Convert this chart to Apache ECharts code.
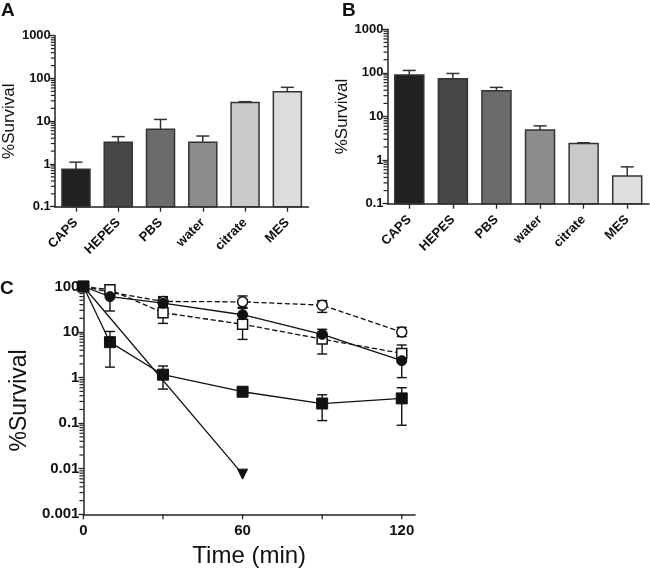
<!DOCTYPE html>
<html><head><meta charset="utf-8">
<script src="https://cdn.jsdelivr.net/npm/echarts@6/dist/echarts.min.js"></script>
<style>html,body{margin:0;padding:0;background:#fff}#c{width:650px;height:574px}</style>
</head><body><div id="c"></div>
<script>
// ---- Data ----
const categories = ['CAPS', 'HEPES', 'PBS', 'water', 'citrate', 'MES'];
const survivalA = [0.75, 3.2, 6.5, 3.2, 27.5, 49];
const errTopA = [1.1, 4.35, 11, 4.5, 28.6, 62];
const survivalB = [89, 73, 39, 4.9, 2.4, 0.43];
const errTopB = [114, 97, 46.5, 6.1, 2.5, 0.70];
const barColorsA = ['#222222', '#474747', '#6b6b6b', '#8c8c8c', '#c9c9c9', '#dcdcdc'];
const barColorsB = ['#222222', '#474747', '#6b6b6b', '#8c8c8c', '#c9c9c9', '#dedede'];

const timeMin = [0, 10, 30, 60, 90, 120];
const filledSquare = [100, 6, 1.16, 0.49, 0.27, 0.35];
const filledSquareLow = [null, 1.7, 0.56, 0.45, 0.114, 0.09];
const filledSquareHigh = [null, 10.3, 1.8, 0.54, 0.42, 0.6];
const triangleTime = [0, 60];
const triangleVals = [100, 0.0076];
const filledCircle = [100, 60, 43, 24, 8.9, 2.35];
const filledCircleLow = [null, 29, 36, 18, 7, 1.0];
const filledCircleHigh = [null, 75, 58, 33, 11.5, 3.5];
const openCircle = [100, 75, 47, 46, 39, 10];
const openCircleLow = [null, 65, 38, 35, 27, 8];
const openCircleHigh = [null, 85, 60, 62, 49, 12.7];
const openSquare = [100, 85, 26.6, 14.8, 7, 3.4];
const openSquareLow = [null, 72, 15.5, 6.9, 3.3, 2.2];
const openSquareHigh = [null, 95, 37, 22, 10, 5.2];

// tick positions
const decadesBar = [0.1, 1, 10, 100];
const decadesC = [0.001, 0.01, 0.1, 1, 10];
const minorMultipliers = [2, 3, 4, 5, 6, 7, 8, 9];
const xTicksC = [0, 30, 60, 90, 120];
const xTickLabelsC = [0, 60, 120];

// ---- Helpers ----
const FONT = 'Liberation Sans, Arial, sans-serif';
const INK = '#111';
function pairs(xs, ys) { return xs.map((x, i) => [x, ys[i]]); }
function errData(xs, lo, hi) {
  const out = [];
  xs.forEach((x, i) => { if (lo[i] != null) out.push([x, lo[i], hi[i]]); });
  return out;
}
function minorData(decades) {
  const out = [];
  decades.forEach(d => minorMultipliers.forEach(m => out.push([0, +(d * m).toPrecision(6)])));
  return out;
}
function fmtNum(v) { return String(+(+v).toPrecision(6)); }

function errRender(capHalf) {
  return function (params, api) {
    const x = api.value(0);
    const pLo = api.coord([x, api.value(1)]);
    const pHi = api.coord([x, api.value(2)]);
    const st = { stroke: INK, lineWidth: 1.4, fill: null };
    return {
      type: 'group',
      children: [
        { type: 'line', shape: { x1: pLo[0], y1: pLo[1], x2: pHi[0], y2: pHi[1] }, style: st },
        { type: 'line', shape: { x1: pLo[0] - capHalf, y1: pLo[1], x2: pLo[0] + capHalf, y2: pLo[1] }, style: st },
        { type: 'line', shape: { x1: pHi[0] - capHalf, y1: pHi[1], x2: pHi[0] + capHalf, y2: pHi[1] }, style: st }
      ]
    };
  };
}
function barErrRender(capHalf) {
  return function (params, api) {
    const x = api.value(0);
    const pLo = api.coord([x, api.value(1)]);
    const pHi = api.coord([x, api.value(2)]);
    const st = { stroke: '#333', lineWidth: 1.5, fill: null };
    return {
      type: 'group',
      children: [
        { type: 'line', shape: { x1: pLo[0], y1: pLo[1], x2: pHi[0], y2: pHi[1] }, style: st },
        { type: 'line', shape: { x1: pHi[0] - capHalf, y1: pHi[1], x2: pHi[0] + capHalf, y2: pHi[1] }, style: st }
      ]
    };
  };
}
function barRender(colors, width, baseVal) {
  return function (params, api) {
    const i = api.value(0);
    const top = api.coord([i, api.value(1)]);
    const base = api.coord([i, baseVal]);
    return {
      type: 'rect',
      shape: { x: top[0] - width / 2, y: top[1], width: width, height: base[1] - top[1] },
      style: { fill: colors[params.dataIndex], stroke: '#333', lineWidth: 1.5 }
    };
  };
}
function yMinorRender(len) {
  return function (params, api) {
    const p = api.coord([api.value(0), api.value(1)]);
    const cs = params.coordSys || {};
    const x0 = cs.x != null ? cs.x : 0;
    return { type: 'line', shape: { x1: x0 - len, y1: p[1], x2: x0, y2: p[1] }, style: { stroke: '#222', lineWidth: 1.2 } };
  };
}
function xTickRender(len) {
  return function (params, api) {
    const p = api.coord([api.value(0), api.value(1)]);
    const cs = params.coordSys || {};
    const y0 = cs.y + cs.height;
    return { type: 'line', shape: { x1: p[0], y1: y0, x2: p[0], y2: y0 + len }, style: { stroke: '#222', lineWidth: 1.3 } };
  };
}

const axisLineStyle = { lineStyle: { color: '#222', width: 1.5 } };
function barYAxis(gridIndex, nameGap) {
  return {
    type: 'log', logBase: 10, gridIndex, min: 0.1, max: 1000,
    axisLine: { show: true, ...axisLineStyle },
    axisTick: { show: true, length: 5, lineStyle: { color: '#222', width: 1.3 } },
    splitLine: { show: false },
    axisLabel: { color: INK, fontFamily: FONT, fontWeight: 'bold', fontSize: 13, margin: 4, formatter: fmtNum },
    name: '%Survival', nameLocation: 'middle', nameRotate: 90, nameGap,
    nameTextStyle: { color: INK, fontFamily: FONT, fontSize: 17 }
  };
}
function barXAxis(gridIndex) {
  return {
    type: 'category', gridIndex, data: categories,
    axisLine: { show: true, ...axisLineStyle },
    axisTick: { show: true, alignWithLabel: true, length: 5, lineStyle: { color: '#222', width: 1.3 } },
    axisLabel: { color: INK, fontFamily: FONT, fontWeight: 'bold', fontSize: 13, rotate: 45, margin: 14, interval: 0 }
  };
}

const option = {
  animation: false,
  backgroundColor: '#fff',
  graphic: [
    { type: 'text', left: 1, top: 1, style: { text: 'A', font: 'bold 19px ' + FONT, fill: INK } },
    { type: 'text', left: 342, top: 1, style: { text: 'B', font: 'bold 19px ' + FONT, fill: INK } },
    { type: 'text', left: 0, top: 279, style: { text: 'C', font: 'bold 19px ' + FONT, fill: INK } }
  ],
  grid: [
    { left: 51, top: 35.7, width: 257.5, height: 171 },
    { left: 387.5, top: 29.3, width: 261.5, height: 174.4 },
    { left: 72.7, top: 286.5, width: 342.3, height: 227.8 }
  ],
  xAxis: [
    barXAxis(0),
    barXAxis(1),
    {
      type: 'value', gridIndex: 2, min: 0, max: 125, interval: 30,
      axisLine: { show: true, ...axisLineStyle },
      axisTick: { show: false },
      splitLine: { show: false },
      axisLabel: {
        color: INK, fontFamily: FONT, fontWeight: 'bold', fontSize: 15, margin: 9,
        formatter: v => (xTickLabelsC.indexOf(v) >= 0 ? String(v) : '')
      },
      name: 'Time (min)', nameLocation: 'middle', nameGap: 30,
      nameTextStyle: { color: INK, fontFamily: FONT, fontSize: 24 }
    }
  ],
  yAxis: [
    barYAxis(0, 29),
    barYAxis(1, 36),
    {
      type: 'log', logBase: 10, gridIndex: 2, min: 0.001, max: 100,
      axisLine: { show: true, ...axisLineStyle },
      axisTick: { show: true, length: 5, lineStyle: { color: '#222', width: 1.3 } },
      splitLine: { show: false },
      axisLabel: { color: INK, fontFamily: FONT, fontWeight: 'bold', fontSize: 15, margin: 4, formatter: fmtNum },
      name: '%Survival', nameLocation: 'middle', nameRotate: 90, nameGap: 51,
      nameTextStyle: { color: INK, fontFamily: FONT, fontSize: 23 }
    }
  ],
  series: [
    // minor ticks
    { type: 'custom', xAxisIndex: 0, yAxisIndex: 0, renderItem: yMinorRender(4), data: minorData(decadesBar), silent: true, clip: false },
    { type: 'custom', xAxisIndex: 1, yAxisIndex: 1, renderItem: yMinorRender(4), data: minorData(decadesBar), silent: true, clip: false },
    { type: 'custom', xAxisIndex: 2, yAxisIndex: 2, renderItem: yMinorRender(4), data: minorData(decadesC), silent: true, clip: false },
    { type: 'custom', xAxisIndex: 2, yAxisIndex: 2, renderItem: xTickRender(5), data: xTicksC.map(t => [t, 0.001]), silent: true, clip: false },
    // Panel A
    {
      type: 'custom', xAxisIndex: 0, yAxisIndex: 0, renderItem: barRender(barColorsA, 28, 0.1),
      data: categories.map((c, i) => [i, survivalA[i]]), z: 2
    },
    {
      type: 'custom', xAxisIndex: 0, yAxisIndex: 0, renderItem: barErrRender(6.5),
      data: categories.map((c, i) => [i, survivalA[i], errTopA[i]]), z: 1
    },
    // Panel B
    {
      type: 'custom', xAxisIndex: 1, yAxisIndex: 1, renderItem: barRender(barColorsB, 29, 0.1),
      data: categories.map((c, i) => [i, survivalB[i]]), z: 2
    },
    {
      type: 'custom', xAxisIndex: 1, yAxisIndex: 1, renderItem: barErrRender(6.5),
      data: categories.map((c, i) => [i, survivalB[i], errTopB[i]]), z: 1
    },
    // Panel C error bars
    { type: 'custom', xAxisIndex: 2, yAxisIndex: 2, renderItem: errRender(5), data: errData(timeMin, filledSquareLow, filledSquareHigh), z: 1 },
    { type: 'custom', xAxisIndex: 2, yAxisIndex: 2, renderItem: errRender(5), data: errData(timeMin, filledCircleLow, filledCircleHigh), z: 1 },
    { type: 'custom', xAxisIndex: 2, yAxisIndex: 2, renderItem: errRender(5), data: errData(timeMin, openCircleLow, openCircleHigh), z: 1 },
    { type: 'custom', xAxisIndex: 2, yAxisIndex: 2, renderItem: errRender(5), data: errData(timeMin, openSquareLow, openSquareHigh), z: 1 },
    // Panel C lines
    {
      type: 'line', xAxisIndex: 2, yAxisIndex: 2, data: pairs(timeMin, openCircle),
      symbol: 'circle', symbolSize: 10, z: 3,
      lineStyle: { color: INK, width: 1.3, type: 'dashed' },
      itemStyle: { color: '#fff', borderColor: INK, borderWidth: 1.5 }
    },
    {
      type: 'line', xAxisIndex: 2, yAxisIndex: 2, data: pairs(timeMin, openSquare),
      symbol: 'rect', symbolSize: 10, z: 3,
      lineStyle: { color: INK, width: 1.3, type: 'dashed' },
      itemStyle: { color: '#fff', borderColor: INK, borderWidth: 1.5 }
    },
    {
      type: 'line', xAxisIndex: 2, yAxisIndex: 2, data: pairs(timeMin, filledCircle),
      symbol: 'circle', symbolSize: 10, z: 4,
      lineStyle: { color: INK, width: 1.3 },
      itemStyle: { color: INK, borderColor: INK, borderWidth: 1 }
    },
    {
      type: 'line', xAxisIndex: 2, yAxisIndex: 2, data: pairs(triangleTime, triangleVals),
      symbol: 'triangle', symbolRotate: 180, symbolSize: 10, z: 4,
      lineStyle: { color: INK, width: 1.3 },
      itemStyle: { color: INK, borderColor: INK, borderWidth: 1 }
    },
    {
      type: 'line', xAxisIndex: 2, yAxisIndex: 2, data: pairs(timeMin, filledSquare),
      symbol: 'rect', symbolSize: 11, z: 5,
      lineStyle: { color: INK, width: 1.3 },
      itemStyle: { color: INK, borderColor: INK, borderWidth: 1 }
    }
  ]
};

const chart = echarts.init(document.getElementById('c'), null, { renderer: 'canvas' });
chart.setOption(option);
</script>
</body></html>
